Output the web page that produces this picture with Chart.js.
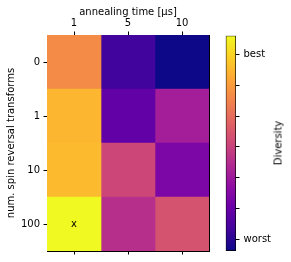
<!DOCTYPE html>
<html>
<head>
<meta charset="utf-8">
<script src="https://cdn.jsdelivr.net/npm/chart.js@4.4.1/dist/chart.umd.min.js"></script>
<style>
  html, body { margin: 0; padding: 0; background: #fff; }
  #wrap { position: relative; width: 291px; height: 262px; overflow: hidden; }
  #heat { position: absolute; left: 0; top: 0; }
  #cbar { position: absolute; left: 210px; top: 0; }
  #cbarTitle {
    position: absolute; left: 278px; top: 143px;
    transform: translate(-50%, -50%) rotate(-90deg);
    font: 10px 'DejaVu Sans', sans-serif; color: #000; white-space: nowrap;
  }
</style>
</head>
<body>
<div id="wrap">
  <canvas id="heat" width="291" height="262"></canvas>
  <canvas id="cbar" width="81" height="262"></canvas>
  <div id="cbarTitle">Diversity</div>
</div>
<script>
// ---- DATA ----
const spinLabels = ['0', '1', '10', '100'];   // rows, top to bottom
const timeLabels = ['1', '5', '10'];          // columns, annealing time [us]
// diversity (0 = lowest, 1 = highest), one array per annealing time, rows as spinLabels
const div1us = [0.72, 0.84, 0.85, 1.0];
const div5us = [0.10, 0.18, 0.50, 0.42];
const div10us = [0.0, 0.36, 0.25, 0.54];
// colorbar ticks
const cbarTicks = [0.054, 0.197, 0.341, 0.484, 0.627, 0.771, 0.914];
const cbarLabels = ['worst', '', '', '', '', '', 'best'];
// marked best cell
const bestMark = { time: '1', spin: '100' };

Chart.defaults.font.family = "'DejaVu Sans', sans-serif";
Chart.defaults.font.size = 10;
Chart.defaults.color = '#000';

// plasma colormap anchors
const plasma = ['#0d0887', '#41049d', '#6a00a8', '#8f0da4', '#b12a90', '#cc4778',
  '#e16462', '#f2844b', '#fca636', '#fcce25', '#f0f921'];
const hexRgb = h => [1, 3, 5].map(i => parseInt(h.slice(i, i + 2), 16));
function plasmaColor(t) {
  t = Math.max(0, Math.min(1, t));
  const p = t * 10;
  const i = Math.min(9, Math.floor(p));
  const f = p - i;
  const a = hexRgb(plasma[i]), b = hexRgb(plasma[i + 1]);
  const c = a.map((v, k) => Math.round(v + (b[k] - v) * f));
  return `rgb(${c[0]},${c[1]},${c[2]})`;
}

const columns = [div1us, div5us, div10us];
const axisLine = { color: '#000', width: 1 };
const tickGrid = { drawOnChartArea: false, tickLength: 3.5, color: '#000', lineWidth: 1 };

// draws the "x" in the best cell
const markPlugin = {
  id: 'mark',
  afterDatasetsDraw(chart) {
    const { ctx, scales: { x, y } } = chart;
    const col = timeLabels.indexOf(bestMark.time);
    const row = spinLabels.indexOf(bestMark.spin);
    ctx.save();
    ctx.font = "10px 'DejaVu Sans'";
    ctx.fillStyle = '#000';
    ctx.textAlign = 'center';
    ctx.textBaseline = 'middle';
    ctx.fillText('x', x.getPixelForValue(col + 0.5), y.getPixelForValue(row));
    ctx.restore();
  },
};

new Chart(document.getElementById('heat'), {
  type: 'bar',
  data: {
    labels: spinLabels,
    datasets: columns.map((vals, i) => ({
      label: timeLabels[i],
      data: spinLabels.map(() => 1),
      backgroundColor: vals.map(plasmaColor),
      borderWidth: 0,
      categoryPercentage: 1,
      barPercentage: 1,
    })),
  },
  options: {
    indexAxis: 'y',
    responsive: false,
    animation: false,
    devicePixelRatio: 1,
    layout: { padding: { left: 0, top: 0, right: 82, bottom: 0 } },
    plugins: { legend: { display: false }, tooltip: { enabled: false } },
    scales: {
      x: {
        type: 'linear', position: 'top', stacked: true, min: 0, max: 3,
        afterBuildTicks: s => { s.ticks = timeLabels.map((_, i) => ({ value: i + 0.5 })); },
        ticks: { callback: (v, i) => timeLabels[i], padding: 2.5, autoSkip: false, maxRotation: 0 },
        grid: tickGrid,
        border: axisLine,
        title: { display: true, text: 'annealing time [μs]', padding: { top: 6, bottom: 0 } },
        afterFit: s => { s.height = 35; },
      },
      x2: {
        type: 'linear', position: 'bottom', min: 0, max: 3,
        afterBuildTicks: s => { s.ticks = timeLabels.map((_, i) => ({ value: i + 0.5 })); },
        ticks: { callback: () => '', autoSkip: false },
        grid: tickGrid,
        border: axisLine,
        afterFit: s => { s.height = 11; },
      },
      y: {
        type: 'category', position: 'left', stacked: true,
        ticks: { padding: 3.5 },
        grid: { ...tickGrid, offset: false },
        border: axisLine,
        title: { display: true, text: 'num. spin reversal transforms', padding: { top: 5.5, bottom: 0 } },
        afterFit: s => { s.width = 47; },
      },
      y2: {
        type: 'linear', position: 'right', min: 0, max: 1,
        ticks: { display: false },
        grid: { display: false },
        border: axisLine,
        afterFit: s => { s.width = 0; },
      },
    },
  },
  plugins: [markPlugin],
});

// ---- COLORBAR ----
new Chart(document.getElementById('cbar'), {
  type: 'bar',
  data: {
    labels: [''],
    datasets: [{
      data: [[0, 1]],
      backgroundColor: ctx => {
        const { chart } = ctx;
        const area = chart.chartArea;
        if (!area) return plasma[5];
        const g = chart.ctx.createLinearGradient(0, area.bottom, 0, area.top);
        plasma.forEach((c, i) => g.addColorStop(i / 10, c));
        return g;
      },
      borderColor: '#000',
      borderWidth: 1,
      borderSkipped: false,
      categoryPercentage: 1,
      barPercentage: 1,
    }],
  },
  options: {
    responsive: false,
    animation: false,
    devicePixelRatio: 1,
    layout: { padding: { left: 15.7, top: 35.7, right: 0, bottom: 11 } },
    plugins: { legend: { display: false }, tooltip: { enabled: false } },
    scales: {
      x: { display: false },
      y: {
        position: 'right', min: 0, max: 1,
        afterBuildTicks: s => { s.ticks = cbarTicks.map(v => ({ value: v })); },
        ticks: { callback: (v, i) => cbarLabels[i], padding: 4, autoSkip: false },
        grid: tickGrid,
        border: { display: false },
        afterFit: s => { s.width = 55; },
      },
    },
  },
});
</script>
</body>
</html>
